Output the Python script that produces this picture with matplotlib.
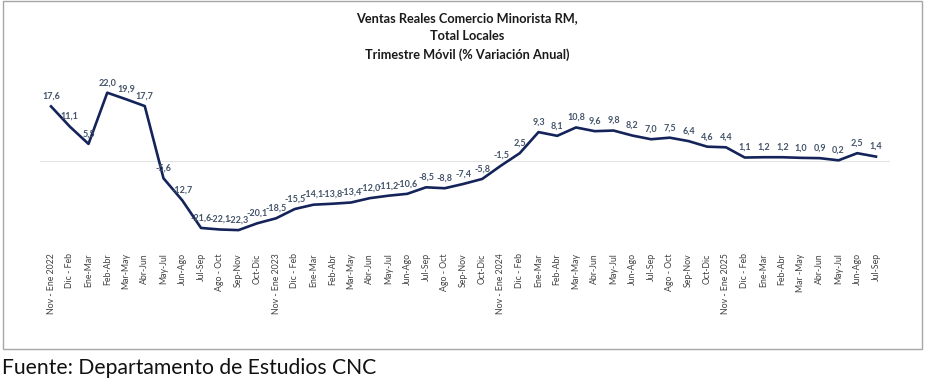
import matplotlib.pyplot as plt
from matplotlib.patches import Rectangle

# Periodos (trimestre movil)
periodos = [
    "Nov - Ene 2022", "Dic - Feb", "Ene-Mar", "Feb-Abr", "Mar-May", "Abr-Jun",
    "May-Jul", "Jun-Ago", "Jul-Sep", "Ago - Oct", "Sep-Nov", "Oct-Dic",
    "Nov - Ene 2023", "Dic - Feb", "Ene-Mar", "Feb-Abr", "Mar-May", "Abr-Jun",
    "May-Jul", "Jun-Ago", "Jul-Sep", "Ago - Oct", "Sep-Nov", "Oct-Dic",
    "Nov - Ene 2024", "Dic - Feb", "Ene-Mar", "Feb-Abr", "Mar-May", "Abr-Jun",
    "May-Jul", "Jun-Ago", "Jul-Sep", "Ago - Oct", "Sep-Nov", "Oct-Dic",
    "Nov - Ene 2025", "Dic - Feb", "Ene-Mar", "Feb-Abr", "Mar -May", "Abr-Jun",
    "May-Jul", "Jun-Ago", "Jul-Sep",
]

# % variacion anual
variacion = [
    17.6, 11.1, 5.5, 22.0, 19.9, 17.7, -5.6, -12.7, -21.6, -22.1, -22.3, -20.1,
    -18.5, -15.5, -14.1, -13.8, -13.4, -12.0, -11.2, -10.6, -8.5, -8.8, -7.4, -5.8,
    -1.5, 2.5, 9.3, 8.1, 10.8, 9.6, 9.8, 8.2, 7.0, 7.5, 6.4, 4.6,
    4.4, 1.1, 1.2, 1.2, 1.0, 0.9, 0.2, 2.5, 1.4,
]

W, H = 926, 380
fig = plt.figure(figsize=(W / 100, H / 100), dpi=100)
plt.rcParams['font.family'] = ['Lato', 'DejaVu Sans']

# marco gris del grafico
fig.patches.append(Rectangle((3 / W, 1 - 349 / H), 919 / W, 348 / H,
                             transform=fig.transFigure, fill=False,
                             edgecolor='#a6a6a6', linewidth=1.0))

ax = fig.add_axes([40 / W, 1 - 245 / H, 850 / W, 165 / H])
x = list(range(len(variacion)))

ax.axhline(0, color='#e3e3e3', linewidth=0.8, zorder=1)
ax.plot(x, variacion, color='#14235a', linewidth=1.9, zorder=3)

for i, v in zip(x, variacion):
    etiqueta = ("%.1f" % v).replace(".", ",")
    ax.annotate(etiqueta, (i, v), xytext=(0, 4), textcoords='offset points',
                ha='center', va='bottom', fontsize=6.5, fontweight='bold',
                color='#44546a', zorder=4)

ax.set_xlim(-0.587, 44.747)
ax.set_ylim(-27.1, 26.1)
ax.set_xticks(x)
ax.set_xticklabels(periodos, rotation=90, fontsize=6.3, color='#404040')
ax.tick_params(axis='x', length=0, pad=6)
ax.set_yticks([])
for s in ax.spines.values():
    s.set_visible(False)

titulo = "Ventas Reales Comercio Minorista RM,\nTotal Locales\nTrimestre Móvil (% Variación Anual)"
fig.text(467 / W, 1 - 12 / H, titulo, ha='center', va='top', fontsize=9.2,
         fontweight='bold', color='#1a1a1a', linespacing=1.6)

fig.text(2 / W, 1 - 374 / H, "Fuente: Departamento de Estudios CNC",
         ha='left', va='baseline', fontsize=15.2, color='#111111')

fig.savefig("out.png", dpi=100)
